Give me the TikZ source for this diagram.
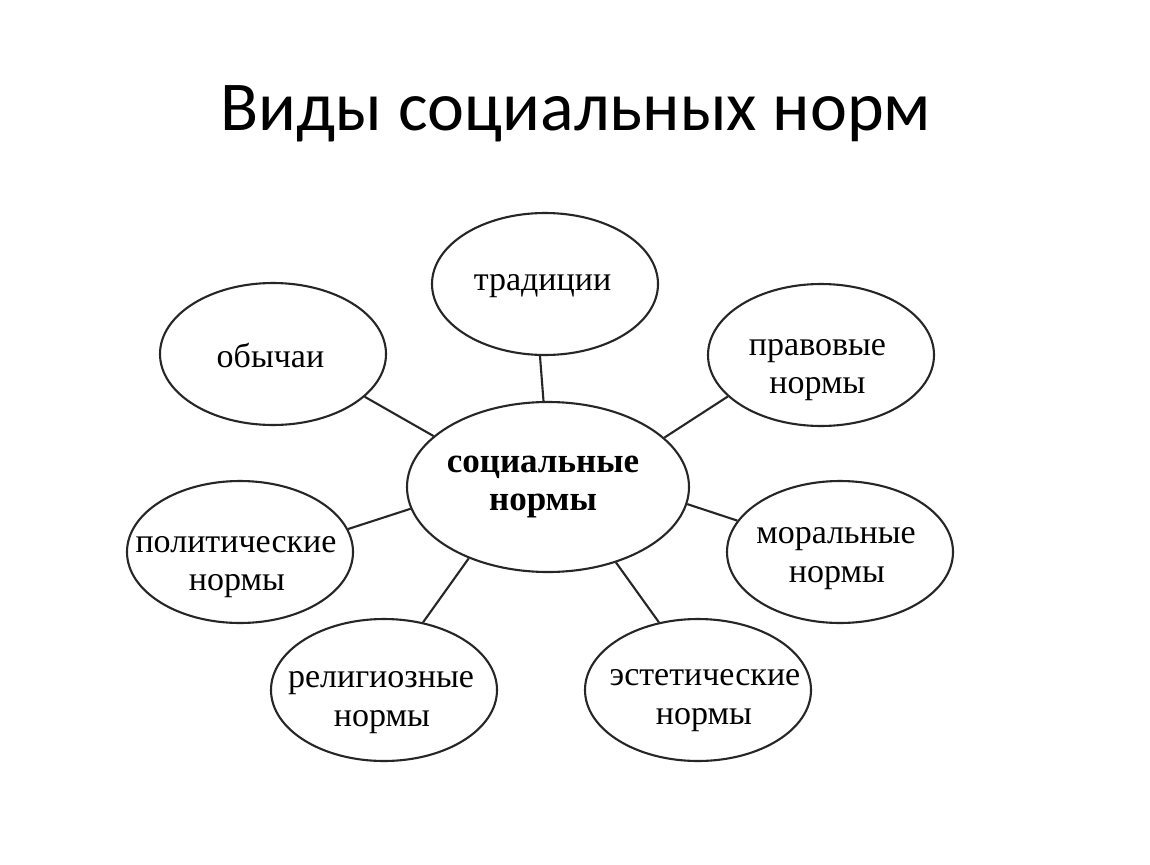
\documentclass[tikz,border=0pt]{standalone}
\usepackage{fontspec}
\setmainfont{Liberation Serif}
\newfontfamily\titlefont{Carlito}
\usetikzlibrary{shapes.geometric}
\tikzset{
  bubble/.style={ellipse, draw=black!85, line width=2.1pt, minimum width=226pt, minimum height=142pt, inner sep=0pt},
  hub/.style={bubble, minimum width=282pt, minimum height=170pt},
  lbl/.style={anchor=base, inner sep=0pt, font=\fontsize{34}{40}\selectfont},
  hublbl/.style={anchor=base, inner sep=0pt, font=\fontsize{35}{40}\selectfont\bfseries},
  link/.style={draw=black!85, line width=2.1pt},
  titlestyle/.style={anchor=base, inner sep=0pt, font=\titlefont\fontsize{70}{84}\selectfont}
}
\begin{document}
\begin{tikzpicture}[x=1pt,y=-1pt]
\fill[white] (0,0) rectangle (1150,864);
\useasboundingbox (0,0) rectangle (1150,864);

\node[titlestyle] (title) at (576,131) {Виды социальных норм};

% ellipses
\node[hub]    (hub)  at (548,487) {};
\node[bubble] (trad) at (545,284) {};
\node[bubble] (obych) at (273,354) {};
\node[bubble] (prav) at (821,355) {};
\node[bubble] (polit) at (240,552) {};
\node[bubble] (moral) at (840,552) {};
\node[bubble] (relig) at (384,690) {};
\node[bubble] (estet) at (698,690) {};

% connectors
\draw[link] (trad.-94) -- (hub.93.4);
\draw[link] (obych.-25) -- (hub.156.7);
\draw[link] (prav.204) -- (hub.23.1);
\draw[link] (polit.12.5) -- (hub.189.6);
\draw[link] (moral.163.8) -- (hub.-7.3);
\draw[link] (relig.60.2) -- (hub.222);
\draw[link] (estet.120.5) -- (hub.-48.2);

% labels
\node[hublbl] (hub1) at (543,472) {социальные};
\node[hublbl] (hub2) at (543,510) {нормы};
\node[lbl] (trad1) at (542.5,290) {традиции};
\node[lbl] (obych1) at (270.5,367) {обычаи};
\node[lbl] (prav1) at (817.5,355) {правовые};
\node[lbl] (prav2) at (817.5,393) {нормы};
\node[lbl] (polit1) at (236,552) {политические};
\node[lbl] (polit2) at (237,590) {нормы};
\node[lbl] (moral1) at (836,543) {моральные};
\node[lbl] (moral2) at (837,582) {нормы};
\node[lbl] (relig1) at (381,687) {религиозные};
\node[lbl] (relig2) at (382,726) {нормы};
\node[lbl] (estet1) at (705,685) {эстетические};
\node[lbl] (estet2) at (704,724) {нормы};
\end{tikzpicture}
\end{document}
